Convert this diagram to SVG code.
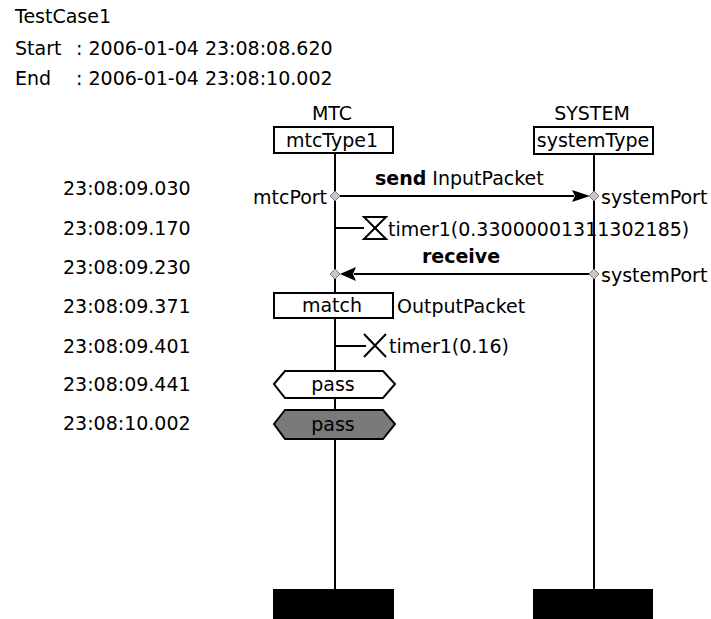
<svg xmlns="http://www.w3.org/2000/svg" width="711" height="619" viewBox="0 0 711 619">
<style>
text{font-family:"DejaVu Sans","Liberation Sans",sans-serif;font-size:19px;fill:#000}
.c{text-anchor:middle}
.b{font-weight:bold}
.box{fill:#fff;stroke:#000;stroke-width:2}
.life{stroke:#000;stroke-width:2;fill:none}
.msg{stroke:#000;stroke-width:2;fill:none}
.port{fill:#c8c8c8;stroke:#777;stroke-width:1}
</style>
<rect width="711" height="619" fill="#fff"/>
<g id="header">
<text x="15" y="23">TestCase1</text>
<text y="55"><tspan x="15">Start</tspan><tspan x="70"> : 2006-01-04 23:08:08.620</tspan></text>
<text y="85"><tspan x="15">End</tspan><tspan x="70"> : 2006-01-04 23:08:10.002</tspan></text>
</g>
<g id="timestamps">
<text x="63" y="195">23:08:09.030</text>
<text x="63" y="235">23:08:09.170</text>
<text x="63" y="274">23:08:09.230</text>
<text x="63" y="313">23:08:09.371</text>
<text x="63" y="353">23:08:09.401</text>
<text x="63" y="391">23:08:09.441</text>
<text x="63" y="430">23:08:10.002</text>
</g>
<g id="lifeline-mtc">
<text class="c" x="332" y="120">MTC</text>
<line class="life" x1="335" y1="153" x2="335" y2="590"/>
<rect class="box" x="274" y="127" width="119" height="26"/>
<text class="c" x="332" y="147">mtcType1</text>
<rect x="273" y="589" width="121" height="30" fill="#000"/>
</g>
<g id="lifeline-system">
<text class="c" x="592" y="120">SYSTEM</text>
<line class="life" x1="594" y1="154" x2="594" y2="590"/>
<rect class="box" x="534" y="127" width="119" height="27"/>
<text class="c" x="593" y="147">systemType</text>
<rect x="533" y="589" width="120" height="30" fill="#000"/>
</g>
<g id="connectors">
<line class="msg" x1="335" y1="196" x2="574" y2="196"/>
<polygon points="572,190 590,196 572,202 575,196" fill="#000"/>
<line class="msg" x1="354" y1="274" x2="594" y2="274"/>
<polygon points="340,274 356,267 353,274 356,281" fill="#000"/>
<line class="msg" x1="335" y1="228" x2="364" y2="228"/>
<line class="msg" x1="335" y1="346" x2="366" y2="346"/>
</g>
<g id="send">
<text x="375" y="185"><tspan class="b">send</tspan> InputPacket</text>
<text x="253" y="204">mtcPort</text>
<text x="601" y="204">systemPort</text>
<polygon class="port" points="335,191 340,196 335,201 330,196"/>
<polygon class="port" points="594,191 599,196 594,201 589,196"/>
</g>
<g id="timer-start">
<path d="M364,217 H386 L364,239 H386 Z" fill="none" stroke="#000" stroke-width="2"/>
<text x="388" y="236">timer1(0.33000001311302185)</text>
</g>
<g id="receive">
<text class="c b" x="461" y="263">receive</text>
<text x="601" y="282">systemPort</text>
<polygon class="port" points="594,269 599,274 594,279 589,274"/>
<polygon class="port" points="335,269 340,274 335,279 330,274"/>
</g>
<g id="match">
<rect class="box" x="274" y="293" width="119" height="25"/>
<text class="c" x="332" y="312">match</text>
<text x="397" y="313">OutputPacket</text>
</g>
<g id="timer-timeout">
<path d="M364,334 L386,357 M386,334 L364,357" stroke="#000" stroke-width="2"/>
<text x="389" y="353">timer1(0.16)</text>
</g>
<g id="verdict-pass">
<polygon points="274,384 285,371 383,371 395,384 383,398 285,398" fill="#fff" stroke="#000" stroke-width="2"/>
<text class="c" x="333" y="391">pass</text>
</g>
<g id="final-verdict">
<polygon points="274,424 285,410 383,410 395,424 383,439 285,439" fill="#7a7a7a" stroke="#000" stroke-width="2"/>
<text class="c" x="333" y="431" fill="#111">pass</text>
</g>
</svg>
